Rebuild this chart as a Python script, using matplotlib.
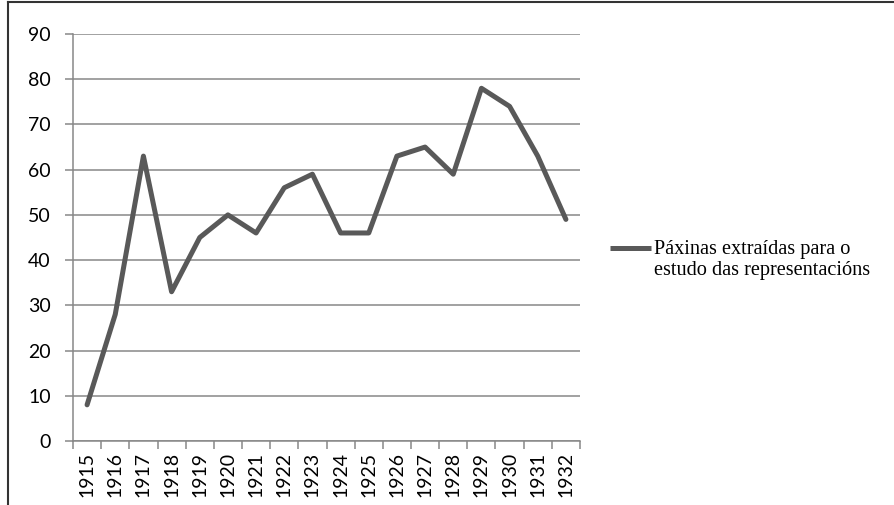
import numpy as np
import matplotlib.pyplot as plt
from matplotlib.lines import Line2D

# Data
years = [1915, 1916, 1917, 1918, 1919, 1920, 1921, 1922, 1923,
         1924, 1925, 1926, 1927, 1928, 1929, 1930, 1931, 1932]
pages = [8, 28, 63, 33, 45, 50, 46, 56, 59,
         46, 46, 63, 65, 59, 78, 74, 63, 49]
yticks = [0, 10, 20, 30, 40, 50, 60, 70, 80, 90]
legend_label = "Páxinas extraídas para o\nestudo das representacións"

W, H = 894, 505
fig = plt.figure(figsize=(W / 100, H / 100), dpi=100)
ax = fig.add_axes([73 / W, 1 - 441 / H, (580 - 73) / W, (441 - 34) / H])

grid_col = '#878787'
line_col = '#595959'
tick_font = dict(fontfamily='Lato', fontsize=14)

x = np.arange(len(years))
ax.plot(x, pages, color=line_col, lw=3.6, solid_capstyle='round')

ax.set_xlim(-0.5, len(years) - 0.5)
ax.set_ylim(0, 90)

ax.set_yticks(yticks)
ax.set_yticklabels([str(v) for v in yticks], **tick_font)
ax.yaxis.grid(True, color=grid_col, lw=1.1)
ax.set_axisbelow(True)

ax.set_xticks(x)
ax.set_xticklabels([str(y) for y in years], rotation=90, **tick_font)
ax.set_xticks(np.arange(-0.5, len(years)), minor=True)
ax.tick_params(axis='x', which='major', length=0, pad=8)
ax.tick_params(axis='x', which='minor', length=6, color=grid_col, width=1.1)
ax.tick_params(axis='y', length=6, color=grid_col, width=1.1, pad=10)

for s in ['top', 'right']:
    ax.spines[s].set_visible(False)
for s in ['left', 'bottom']:
    ax.spines[s].set_color(grid_col)
    ax.spines[s].set_linewidth(1.1)

# legend drawn at the right
fig.add_artist(Line2D([610 / W, 651 / W], [1 - 248 / H, 1 - 248 / H],
                      color=line_col, lw=3.6, solid_capstyle='butt'))
fig.text(654 / W, 1 - 260 / H, legend_label, fontfamily='Liberation Serif',
         fontsize=14.6, va='center', ha='left', linespacing=1.2)

# frame of the picture
fig.add_artist(Line2D([8 / W, 1], [1 - 1.5 / H, 1 - 1.5 / H], color='#333333', lw=1.5))
fig.add_artist(Line2D([8 / W, 8 / W], [0, 1 - 1.5 / H], color='#333333', lw=1.5))

fig.savefig('out.png', dpi=100)
